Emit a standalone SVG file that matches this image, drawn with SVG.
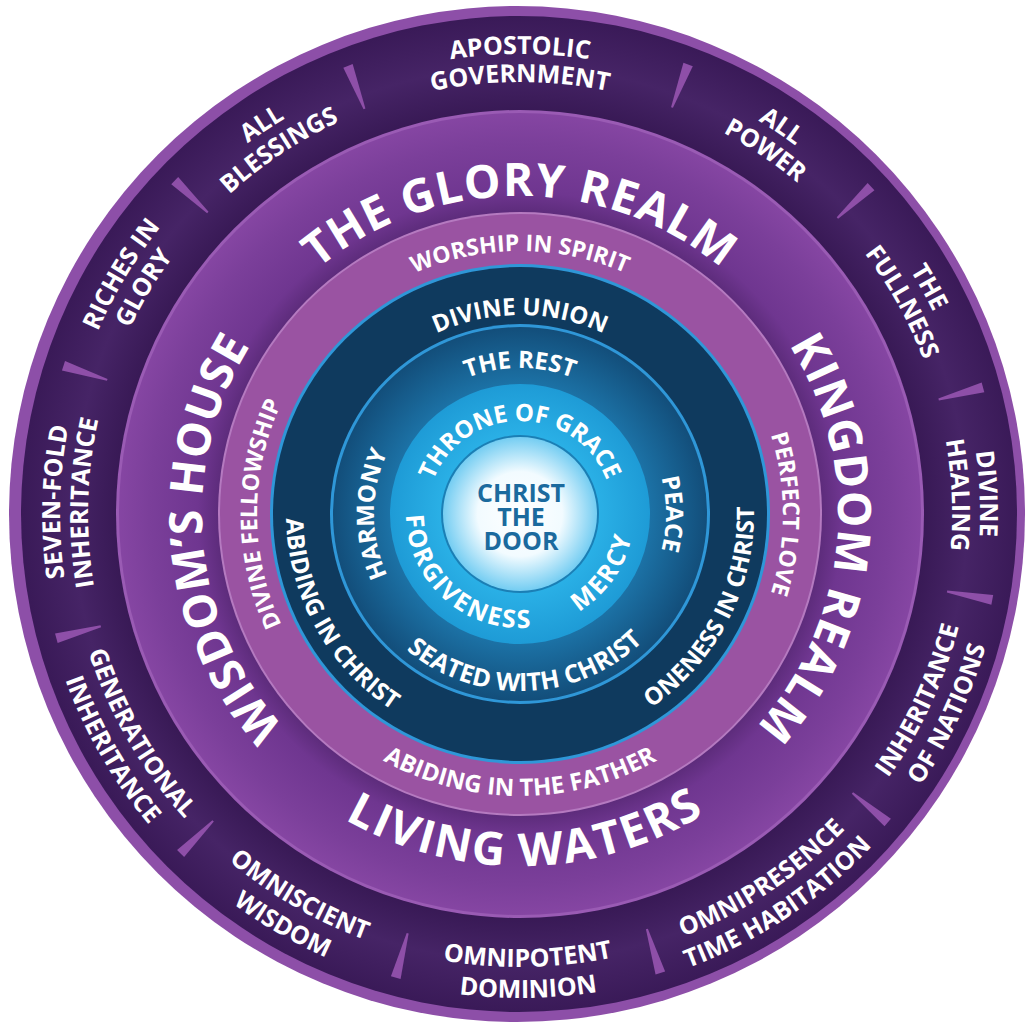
<svg xmlns="http://www.w3.org/2000/svg" xmlns:xlink="http://www.w3.org/1999/xlink" width="1026" height="1025" viewBox="0 0 1026 1025">
<style>
text{font-family:"Open Sans","Liberation Sans",sans-serif;font-weight:700;fill:#fff;text-anchor:middle}
.o{font-size:25px}
.b{font-size:46px;letter-spacing:1px}
.l{font-size:23px}
.n{font-size:24px}
.t{font-size:24px}
.g{font-size:24px}
.gi{font-size:25px;letter-spacing:2px}
.c{font-size:25px;fill:#1b6a9e}
.sep{fill:#8e4fa8}
</style>
<defs>
<radialGradient id="band" cx="520" cy="514" r="497" gradientUnits="userSpaceOnUse">
<stop offset="0.81" stop-color="#381955"/><stop offset="0.9" stop-color="#462466"/><stop offset="1" stop-color="#3a1a58"/>
</radialGradient>
<radialGradient id="big" cx="520" cy="514" r="403" gradientUnits="userSpaceOnUse">
<stop offset="0.74" stop-color="#5a2a78"/><stop offset="0.8" stop-color="#6f3690"/><stop offset="0.92" stop-color="#7b3f9a"/><stop offset="1" stop-color="#8646a3"/>
</radialGradient>
<radialGradient id="teal" cx="520" cy="514" r="190" gradientUnits="userSpaceOnUse">
<stop offset="0.68" stop-color="#1c72a6"/><stop offset="1" stop-color="#124c78"/>
</radialGradient>
<radialGradient id="lb" cx="520" cy="514" r="130" gradientUnits="userSpaceOnUse">
<stop offset="0.6" stop-color="#2ab0e6"/><stop offset="1" stop-color="#1e9bd6"/>
</radialGradient>
<radialGradient id="ctr" cx="520" cy="514" r="77" gradientUnits="userSpaceOnUse">
<stop offset="0" stop-color="#ffffff"/><stop offset="0.55" stop-color="#f2fbff"/><stop offset="1" stop-color="#74cdf2"/>
</radialGradient>
<path id="o1c" d="M520 974A460 460 0 0 1 520 54A460 460 0 0 1 520 974"/>
<path id="o2c" d="M520 946A432 432 0 0 1 520 82A432 432 0 0 1 520 946"/>
<path id="bc" d="M520 832A318 318 0 0 1 520 196A318 318 0 0 1 520 832"/>
<path id="lc" d="M520 777A263 263 0 0 1 520 251A263 263 0 0 1 520 777"/>
<path id="nc" d="M520 713A199 199 0 0 1 520 315A199 199 0 0 1 520 713"/>
<path id="tc" d="M520 660A146 146 0 0 1 520 368A146 146 0 0 1 520 660"/>
<path id="gc" d="M520 607A93 93 0 0 1 520 421A93 93 0 0 1 520 607"/>
<path id="o1a" d="M520 61A453 453 0 0 0 520 967A453 453 0 0 0 520 61"/>
<path id="o2a" d="M520 30A484 484 0 0 0 520 998A484 484 0 0 0 520 30"/>
<path id="ba" d="M520 162A352 352 0 0 0 520 866A352 352 0 0 0 520 162"/>
<path id="la" d="M520 232A282 282 0 0 0 520 796A282 282 0 0 0 520 232"/>
<path id="na" d="M520 280A234 234 0 0 0 520 748A234 234 0 0 0 520 280"/>
<path id="ta" d="M520 337A177 177 0 0 0 520 691A177 177 0 0 0 520 337"/>
<path id="ga" d="M520 400A114 114 0 0 0 520 628A114 114 0 0 0 520 400"/>
<polygon id="wedge" points="519,80 521,80 525,34 515,34"/>
</defs>

<g id="rings">
<circle cx="517" cy="514" r="508" fill="#8d4fa8"/>
<circle cx="519" cy="514" r="498" fill="url(#band)"/>
<circle cx="520" cy="514" r="404" fill="#9a5bb4"/>
<circle cx="520" cy="514" r="401" fill="url(#big)"/>
<circle cx="520" cy="514" r="302" fill="#b57ac0"/>
<circle cx="520" cy="514" r="300" fill="#9a53a2"/>
<circle cx="520" cy="514" r="250" fill="#2f97d8"/>
<circle cx="520" cy="514" r="247" fill="#0f3a5e"/>
<circle cx="520" cy="514" r="190" fill="#2f97d8"/>
<circle cx="520" cy="514" r="187" fill="url(#teal)"/>
<circle cx="520" cy="514" r="130" fill="url(#lb)"/>
<circle cx="520" cy="514" r="79" fill="#1b7fb5"/>
<circle cx="520" cy="514" r="77" fill="url(#ctr)"/>
</g>

<g id="separators">
<use href="#wedge" class="sep" transform="rotate(20.5 520 514)"/>
<use href="#wedge" class="sep" transform="rotate(47 520 514)"/>
<use href="#wedge" class="sep" transform="rotate(74.7 520 514)"/>
<use href="#wedge" class="sep" transform="rotate(100.3 520 514)"/>
<use href="#wedge" class="sep" transform="rotate(130 520 514)"/>
<use href="#wedge" class="sep" transform="rotate(163 520 514)"/>
<use href="#wedge" class="sep" transform="rotate(195 520 514)"/>
<use href="#wedge" class="sep" transform="rotate(225 520 514)"/>
<use href="#wedge" class="sep" transform="rotate(255 520 514)"/>
<use href="#wedge" class="sep" transform="rotate(288 520 514)"/>
<use href="#wedge" class="sep" transform="rotate(314 520 514)"/>
<use href="#wedge" class="sep" transform="rotate(339 520 514)"/>
</g>

<g id="outer-labels">
<g id="apostolic"><text class="o"><textPath href="#o1c" startOffset="50%">APOSTOLIC</textPath></text><text class="o"><textPath href="#o2c" startOffset="50%">GOVERNMENT</textPath></text></g>
<g id="allpower" transform="rotate(34 520 514)"><text class="o"><textPath href="#o1c" startOffset="50%">ALL</textPath></text><text class="o"><textPath href="#o2c" startOffset="50%">POWER</textPath></text></g>
<g id="fullness" transform="rotate(61 520 514)"><text class="o"><textPath href="#o1c" startOffset="50%">THE</textPath></text><text class="o"><textPath href="#o2c" startOffset="50%">FULLNESS</textPath></text></g>
<g id="healing" transform="rotate(87.5 520 514)"><text class="o"><textPath href="#o1c" startOffset="50%">DIVINE</textPath></text><text class="o"><textPath href="#o2c" startOffset="50%">HEALING</textPath></text></g>
<g id="nations" transform="rotate(-65 520 514)"><text class="o"><textPath href="#o1a" startOffset="50%">INHERITANCE</textPath></text><text class="o"><textPath href="#o2a" startOffset="50%">OF NATIONS</textPath></text></g>
<g id="omnipresence" transform="rotate(-33.5 520 514)"><text class="o"><textPath href="#o1a" startOffset="50%">OMNIPRESENCE</textPath></text><text class="o"><textPath href="#o2a" startOffset="50%">TIME HABITATION</textPath></text></g>
<g id="omnipotent" transform="rotate(-1 520 514)"><text class="o"><textPath href="#o1a" startOffset="50%">OMNIPOTENT</textPath></text><text class="o"><textPath href="#o2a" startOffset="50%">DOMINION</textPath></text></g>
<g id="omniscient" transform="rotate(30 520 514)"><text class="o"><textPath href="#o1a" startOffset="50%">OMNISCIENT</textPath></text><text class="o"><textPath href="#o2a" startOffset="50%">WISDOM</textPath></text></g>
<g id="generational" transform="rotate(60 520 514)"><text class="o"><textPath href="#o1a" startOffset="50%">GENERATIONAL</textPath></text><text class="o"><textPath href="#o2a" startOffset="50%">INHERITANCE</textPath></text></g>
<g id="sevenfold" transform="rotate(271.5 520 514)"><text class="o"><textPath href="#o1c" startOffset="50%">SEVEN-FOLD</textPath></text><text class="o"><textPath href="#o2c" startOffset="50%">INHERITANCE</textPath></text></g>
<g id="riches" transform="rotate(301 520 514)"><text class="o"><textPath href="#o1c" startOffset="50%">RICHES IN</textPath></text><text class="o"><textPath href="#o2c" startOffset="50%">GLORY</textPath></text></g>
<g id="blessings" transform="rotate(326.5 520 514)"><text class="o"><textPath href="#o1c" startOffset="50%">ALL</textPath></text><text class="o"><textPath href="#o2c" startOffset="50%">BLESSINGS</textPath></text></g>
</g>

<g id="realm-labels">
<text id="glory" class="b"><textPath href="#bc" startOffset="50%">THE GLORY REALM</textPath></text>
<text id="kingdom" class="b" transform="rotate(95 520 514)"><textPath href="#bc" startOffset="50%">KINGDOM REALM</textPath></text>
<text id="wisdom" class="b" transform="rotate(265 520 514)" style="letter-spacing:0.5px"><textPath href="#bc" startOffset="50%">WISDOM’S HOUSE</textPath></text>
<text id="living" class="b" transform="rotate(-1 520 514)" style="letter-spacing:2px"><textPath href="#ba" startOffset="50%">LIVING WATERS</textPath></text>
</g>

<g id="lavender-labels">
<text id="worship" class="l"><textPath href="#lc" startOffset="50%">WORSHIP IN SPIRIT</textPath></text>
<text id="perfect" class="l" transform="rotate(90 520 514)"><textPath href="#lc" startOffset="50%">PERFECT LOVE</textPath></text>
<text id="fellowship" class="l" transform="rotate(270 520 514)"><textPath href="#lc" startOffset="50%">DIVINE FELLOWSHIP</textPath></text>
<text id="father" class="l" style="font-size:24px"><textPath href="#la" startOffset="50%">ABIDING IN THE FATHER</textPath></text>
</g>

<g id="navy-labels">
<text id="union" class="n"><textPath href="#nc" startOffset="50%">DIVINE UNION</textPath></text>
<text id="oneness" class="n" transform="rotate(-63 520 514)"><textPath href="#na" startOffset="50%">ONENESS IN CHRIST</textPath></text>
<text id="abiding" class="n" transform="rotate(61 520 514)"><textPath href="#na" startOffset="50%">ABIDING IN CHRIST</textPath></text>
</g>

<g id="teal-labels">
<text id="rest" class="t"><textPath href="#tc" startOffset="50%">THE REST</textPath></text>
<text id="peace" class="t" transform="rotate(90 520 514)"><textPath href="#tc" startOffset="50%">PEACE</textPath></text>
<text id="harmony" class="t" transform="rotate(270 520 514)"><textPath href="#tc" startOffset="50%">HARMONY</textPath></text>
<text id="seated" class="t" transform="rotate(-2 520 514)" style="font-size:25px"><textPath href="#ta" startOffset="50%">SEATED WITH CHRIST</textPath></text>
</g>

<g id="grace-labels">
<text id="throne" class="g"><textPath href="#gc" startOffset="50%">THRONE OF GRACE</textPath></text>
<text id="forgiveness" class="gi" transform="rotate(41.5 520 514)"><textPath href="#ga" startOffset="50%">FORGIVENESS</textPath></text>
<text id="mercy" class="gi" transform="rotate(-55 520 514)"><textPath href="#ga" startOffset="50%">MERCY</textPath></text>
</g>

<g id="center">
<text class="c" x="521" y="502">CHRIST<tspan x="521" dy="24">THE</tspan><tspan x="521" dy="24">DOOR</tspan></text>
</g>
</svg>
